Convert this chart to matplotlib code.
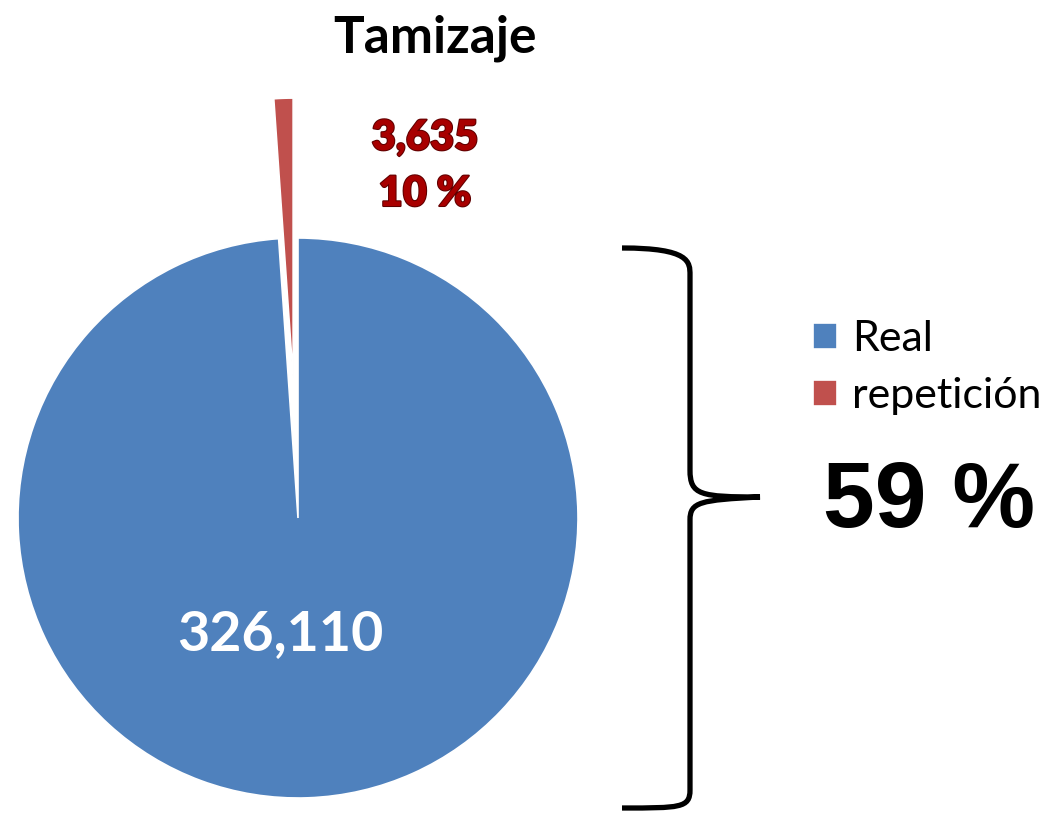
import numpy as np
import matplotlib.pyplot as plt
from matplotlib.path import Path
from matplotlib.patches import PathPatch
import matplotlib.patheffects as pe

categories = ['Real', 'repetición']
values = [326110, 3635]
colors = ['#4F81BD', '#C0504D']
value_labels = ['326,110', '3,635']
pct_label = '10 %'
total_label = '59 %'

plt.rcParams['font.family'] = ['Lato', 'DejaVu Sans']

fig = plt.figure(figsize=(10.58, 8.17), dpi=100)
ax = fig.add_axes([0, 0, 1, 1])

# pie, repetición slice pulled out upward
wedges, _ = ax.pie(values, colors=colors, startangle=90, counterclock=False,
                   center=(298, 299), radius=280, explode=[0, 140],
                   wedgeprops=dict(edgecolor='white', linewidth=1.2),
                   frame=True)
ax.set_xlim(0, 1058)
ax.set_ylim(0, 817)
ax.set_aspect('equal')
ax.axis('off')

ax.text(280, 167, value_labels[0], color='white', fontsize=40,
        fontweight='bold', ha='center', va='baseline')
shadow = [pe.withStroke(linewidth=1.5, foreground='#600000')]
ax.text(425, 679, value_labels[1], color='#A80000', fontsize=30,
        fontweight='heavy', ha='center', va='center', path_effects=shadow)
ax.text(425, 623, pct_label, color='#A80000', fontsize=30,
        fontweight='heavy', ha='center', va='center', path_effects=shadow)

ax.text(435, 817 - 52, 'Tamizaje', fontsize=37, fontweight='bold',
        ha='center', va='baseline')

# legend
leg = ax.legend(wedges, categories, loc='upper left',
                bbox_to_anchor=(813 / 1058, 1 - 320 / 817), frameon=False,
                fontsize=31, handlelength=0.55, handleheight=0.55,
                handletextpad=0.35, labelspacing=0.45, borderaxespad=0,
                borderpad=0)

# brace
verts = [(622, 817 - 248), (690, 817 - 248), (690, 817 - 262), (690, 817 - 275),
         (690, 817 - 470),
         (690, 817 - 495), (700, 817 - 497), (760, 817 - 497),
         (700, 817 - 500), (690, 817 - 502), (690, 817 - 520),
         (690, 817 - 790),
         (690, 817 - 808), (680, 817 - 808), (622, 817 - 808)]
codes = [Path.MOVETO, Path.CURVE4, Path.CURVE4, Path.CURVE4,
         Path.LINETO,
         Path.CURVE4, Path.CURVE4, Path.CURVE4,
         Path.CURVE4, Path.CURVE4, Path.CURVE4,
         Path.LINETO,
         Path.CURVE4, Path.CURVE4, Path.CURVE4]
ax.add_patch(PathPatch(Path(verts, codes), facecolor='none', edgecolor='black',
                       linewidth=3.8, capstyle='butt'))

ax.text(929, 817 - 527, total_label, fontsize=67, fontweight='bold',
        family=['Liberation Sans', 'DejaVu Sans'], ha='center', va='baseline')

fig.savefig('out.png', dpi=100, facecolor='white')
